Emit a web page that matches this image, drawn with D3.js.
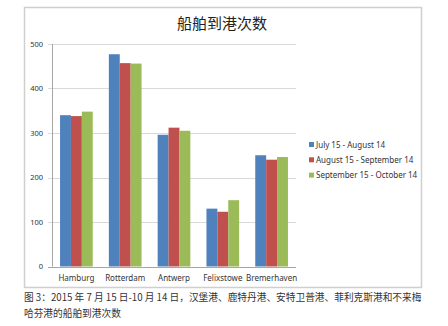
<!DOCTYPE html>
<html>
<head>
<meta charset="utf-8">
<script src="https://cdn.jsdelivr.net/npm/d3@7"></script>
<style>
body { margin: 0; background: #fff; }
text { font-family: "Noto Sans", "Noto Sans CJK SC", sans-serif; }
</style>
</head>
<body>
<div id="chart"></div>
<script>
var ports = ["Hamburg", "Rotterdam", "Antwerp", "Felixstowe", "Bremerhaven"];
var seriesNames = ["July 15 - August 14", "August 15 - September 14", "September 15 - October 14"];
var julAug = [340, 477, 296, 130, 250];
var augSep = [338, 457, 312, 123, 240];
var sepOct = [348, 456, 305, 149, 246];
var yTicks = [0, 100, 200, 300, 400, 500];
var colors = ["#4F81BD", "#C0504D", "#9BBB59"];

var W = 448, H = 326;
var margin = {top: 44, left: 52, right: 152, bottom: 59.5};
var width = W - margin.left - margin.right,
    height = H - margin.top - margin.bottom;

var svg = d3.select("#chart").append("svg")
    .attr("width", W)
    .attr("height", H);

// chart frame
svg.append("rect")
    .attr("x", 24.5).attr("y", 7.5)
    .attr("width", 397).attr("height", 280)
    .attr("fill", "none")
    .attr("stroke", "#cfcfcf")
    .attr("stroke-width", 1.5);

svg.append("text")
    .attr("x", 222).attr("y", 29)
    .attr("text-anchor", "middle")
    .style("font-family", "'Noto Sans CJK SC', sans-serif")
    .style("font-size", "15px")
    .attr("fill", "#222")
    .text("船舶到港次数");

var g = svg.append("g")
    .attr("transform", "translate(" + margin.left + "," + margin.top + ")");

var x0 = d3.scaleBand().domain(ports).range([0, width]).paddingInner(0.33).paddingOuter(0.165);
var x1 = d3.scaleBand().domain([0, 1, 2]).range([0, x0.bandwidth()]);
var y = d3.scaleLinear().domain([0, 500]).range([height, 0]);

// gridlines
g.selectAll(".grid")
    .data(yTicks)
    .enter().append("line")
    .attr("x1", -4).attr("x2", width)
    .attr("y1", function (d) { return Math.round(y(d)) + 0.5; })
    .attr("y2", function (d) { return Math.round(y(d)) + 0.5; })
    .attr("stroke", function (d) { return d === 0 ? "#a6a6a6" : "#d9d9d9"; });

g.append("line")
    .attr("x1", 0.5).attr("x2", 0.5)
    .attr("y1", 0).attr("y2", height)
    .attr("stroke", "#a6a6a6");

g.selectAll(".ylab")
    .data(yTicks)
    .enter().append("text")
    .attr("x", -9)
    .attr("y", function (d) { return y(d); })
    .attr("dy", "0.35em")
    .attr("text-anchor", "end")
    .style("font-size", "7.5px")
    .attr("fill", "#333")
    .text(function (d) { return d; });

var series = [julAug, augSep, sepOct];
var groups = g.selectAll(".port")
    .data(ports)
    .enter().append("g")
    .attr("transform", function (d) { return "translate(" + x0(d) + ",0)"; });

groups.selectAll("rect")
    .data(function (d, i) { return series.map(function (s, k) { return {k: k, v: s[i]}; }); })
    .enter().append("rect")
    .attr("x", function (d) { return x1(d.k); })
    .attr("width", x1.bandwidth())
    .attr("y", function (d) { return y(d.v); })
    .attr("height", function (d) { return height - y(d.v); })
    .attr("fill", function (d) { return colors[d.k]; });

g.selectAll(".xlab")
    .data(ports)
    .enter().append("text")
    .attr("x", function (d) { return x0(d) + x0.bandwidth() / 2; })
    .attr("y", height + 14)
    .attr("text-anchor", "middle")
    .style("font-size", "8px")
    .attr("fill", "#333")
    .text(function (d) { return d; });

// legend
var legend = svg.append("g").attr("transform", "translate(309,145)");
seriesNames.forEach(function (name, i) {
    legend.append("rect")
        .attr("x", 0).attr("y", i * 15.3 - 3)
        .attr("width", 5).attr("height", 5)
        .attr("fill", colors[i]);
    legend.append("text")
        .attr("x", 7).attr("y", i * 15.3)
        .attr("dy", "0.35em")
        .style("font-size", "8px")
        .attr("fill", "#333")
        .text(name);
});

// caption
var caption = ["图 3：2015 年 7 月 15 日-10 月 14 日，汉堡港、鹿特丹港、安特卫普港、菲利克斯港和不来梅",
               "哈芬港的船舶到港次数"];
svg.selectAll(".cap")
    .data(caption)
    .enter().append("text")
    .attr("x", 24)
    .attr("y", function (d, i) { return 301 + i * 16; })
    .style("font-family", "'Noto Sans CJK SC', sans-serif")
    .style("font-size", "9.7px")
    .attr("fill", "#333")
    .text(function (d) { return d; });
</script>
</body>
</html>
